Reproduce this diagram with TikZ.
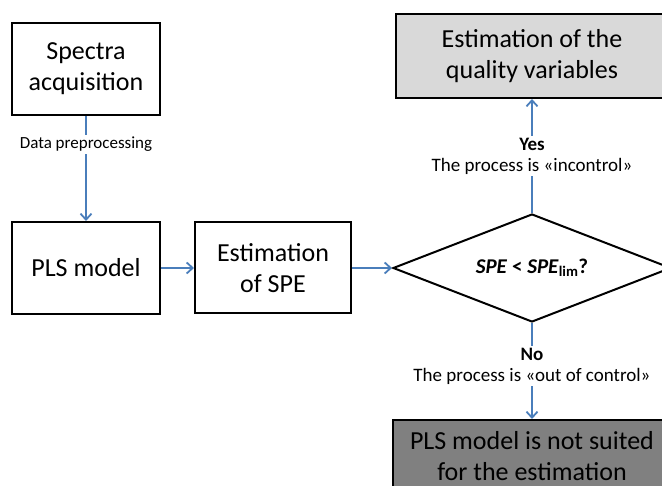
\documentclass[tikz,border=0pt]{standalone}
\usepackage{fontspec}
\setmainfont{Carlito}
\usepackage{tikz}
\usetikzlibrary{shapes,arrows.meta,positioning,calc}

\definecolor{flowblue}{RGB}{74,126,187}
\definecolor{lightfill}{RGB}{217,217,217}
\definecolor{darkfill}{RGB}{128,128,128}

\tikzset{
    box/.style={draw=black, line width=2pt, align=center, inner sep=0pt, font=\fontsize{26}{31}\selectfont},
    decision/.style={draw=black, line width=2pt, diamond, aspect=2.57, inner sep=0pt, minimum width=278pt, minimum height=108pt, font=\fontsize{21}{25}\selectfont},
    flow/.style={draw=flowblue, line width=1.8pt, -{Straight Barb[length=6pt,width=11pt,line width=1.8pt]}},
    lbl/.style={fill=white, align=center, inner sep=2pt, font=\fontsize{19}{21}\selectfont}
}

\begin{document}
\begin{tikzpicture}[x=1pt, y=-1pt]
    \clip (0,0) rectangle (662,486);

    \node[box, minimum width=148pt, minimum height=92pt] (spectra) at (86,69) {Spectra\\acquisition};
    \node[box, minimum width=148pt, minimum height=92pt] (pls) at (86,268) {PLS model};
    \node[box, minimum width=156pt, minimum height=91pt] (estspe) at (273,268) {Estimation\\of SPE};
    \node[decision] (check) at (532,268) {\textbf{\textit{SPE} < \textit{SPE}\textsubscript{lim}?}};
    \node[box, fill=lightfill, minimum width=272pt, minimum height=84pt] (quality) at (532,56) {Estimation of the\\quality variables};
    \node[box, fill=darkfill, minimum width=278pt, minimum height=72pt] (notsuited) at (532,456) {PLS model is not suited\\for the estimation};

    \draw[flow] (spectra) -- (pls) node[lbl, pos=0.27, font=\fontsize{17}{20}\selectfont] {Data preprocessing};
    \draw[flow] (pls) -- (estspe);
    \draw[flow] (estspe) -- (check);
    \draw[flow] (check) -- (quality) node[lbl, midway] {\textbf{Yes}\\The process is «incontrol»};
    \draw[flow] (check) -- (notsuited) node[lbl, pos=0.45] {\textbf{No}\\The process is «out of control»};
\end{tikzpicture}
\end{document}
